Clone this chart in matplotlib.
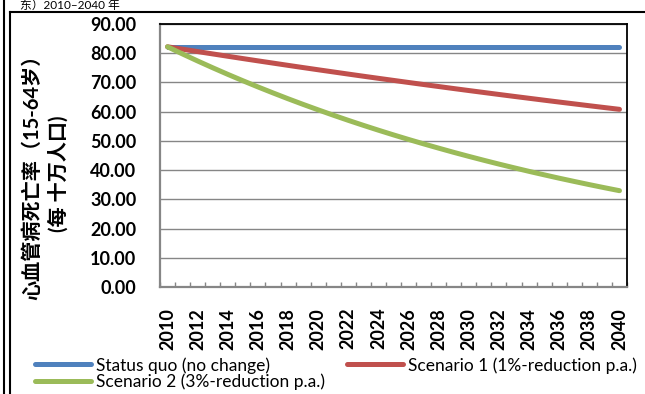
import numpy as np
import matplotlib
matplotlib.use("Agg")
import matplotlib.pyplot as plt
from matplotlib.lines import Line2D

plt.rcParams['font.family'] = ['Lato', 'Noto Sans CJK SC', 'DejaVu Sans']

# Cardiovascular mortality (ages 15-64, per 100,000), 2010-2040
years = list(range(2010, 2041))
status_quo = [82.2] * 31
scenario_1 = [82.20, 81.38, 80.56, 79.76, 78.96, 78.17, 77.39, 76.62, 75.85, 75.09,
              74.34, 73.60, 72.86, 72.13, 71.41, 70.70, 69.99, 69.29, 68.60, 67.91,
              67.23, 66.56, 65.89, 65.23, 64.58, 63.93, 63.29, 62.66, 62.03, 61.41,
              60.80]
scenario_2 = [82.20, 79.73, 77.34, 75.02, 72.77, 70.59, 68.47, 66.42, 64.42, 62.49,
              60.62, 58.80, 57.03, 55.32, 53.66, 52.05, 50.49, 48.98, 47.51, 46.08,
              44.70, 43.36, 42.06, 40.80, 39.57, 38.39, 37.23, 36.12, 35.03, 33.98,
              32.96]
series_labels = ["Status quo (no change)",
                 "Scenario 1 (1%-reduction p.a.)",
                 "Scenario 2 (3%-reduction p.a.)"]
colors = ["#4F81BD", "#C0504D", "#9BBB59"]
y_ticks = [0, 10, 20, 30, 40, 50, 60, 70, 80, 90]

W, H = 645, 394
fig = plt.figure(figsize=(W / 100, H / 100), dpi=100)

def fx(px):
    return px / W

def fy(py):
    return 1 - py / H

ax = fig.add_axes([fx(160), fy(287), fx(627) - fx(160), fy(24) - fy(287)])

pos = np.arange(len(years))
handles = []
for vals, lab, c in zip([status_quo, scenario_1, scenario_2], series_labels, colors):
    h, = ax.plot(pos, vals, color=c, lw=3.6, solid_capstyle='round', label=lab, zorder=3)
    handles.append(h)

ax.set_xlim(-0.5, len(years) - 0.5)
ax.set_ylim(0, 90)
ax.set_yticks(y_ticks)
ax.set_yticklabels([f"{v:.2f}" for v in y_ticks], fontsize=13, fontweight='bold')
ax.tick_params(axis='y', length=0, pad=17)

ax.set_xticks(pos[::2])
ax.set_xticklabels([str(y) for y in years[::2]], rotation=90, fontsize=13,
                   fontweight='bold')
ax.set_xticks(np.arange(len(years) + 1) - 0.5, minor=True)
ax.tick_params(axis='x', which='major', length=0, pad=15)
ax.tick_params(axis='x', which='minor', direction='in', length=3.5,
               color='#868686', width=1)

ax.grid(axis='y', color='#868686', lw=1.0, zorder=1)
for side in ('left', 'bottom'):
    ax.spines[side].set_color('#868686')
    ax.spines[side].set_linewidth(1.6)
for side in ('top', 'right'):
    ax.spines[side].set_color('black')
    ax.spines[side].set_linewidth(1.3)

# Y-axis title in two lines
fig.text(fx(32), fy(172), "心血管病死亡率（15-64岁）", rotation=90, ha='center',
         va='center', fontsize=14.5, fontweight='bold')
fig.text(fx(58), fy(174), "(每 十万人口)", rotation=90, ha='center',
         va='center', fontsize=14.5, fontweight='bold')

# Legend: two entries on the first row, one on the second
leg = fig.legend([handles[0], handles[2], handles[1]],
                 [series_labels[0], series_labels[2], series_labels[1]],
                 ncol=2, loc='upper left', bbox_to_anchor=(fx(35), fy(357)),
                 frameon=False, fontsize=12.5, handlelength=3.2, handletextpad=0.3,
                 columnspacing=1.3, labelspacing=0.0, borderpad=0, borderaxespad=0)

# Heading line above the frame
fig.text(fx(20), fy(9), "东）2010–2040 年", fontsize=8.5, va='baseline', ha='left')

# Frame lines
fig.add_artist(Line2D([fx(4), fx(4)], [0, 1], color='black', lw=1.5))
fig.add_artist(Line2D([fx(10), fx(10)], [0, fy(12)], color='black', lw=1.5))
fig.add_artist(Line2D([fx(10), 1], [fy(12), fy(12)], color='black', lw=1.5))

fig.savefig("out.png", dpi=100)
